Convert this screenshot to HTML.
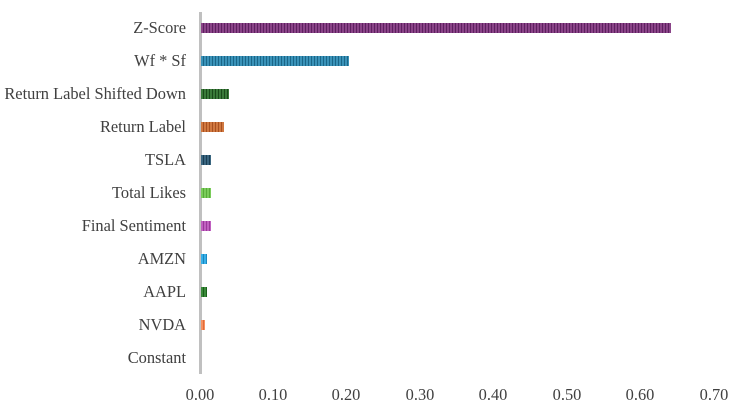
<!DOCTYPE html><html><head><style>
body{margin:0;width:738px;height:408px;background:#fff;position:relative;font-family:"Liberation Serif",serif;color:#404040;overflow:hidden}
.l{position:absolute;right:552px;font-size:16.4px;line-height:18px;white-space:nowrap}
.b{position:absolute;left:201px;height:10px}
.t{position:absolute;top:385px;font-size:16.4px;width:60px;text-align:center;margin-left:-30px}
</style></head><body>
<div style="position:absolute;left:199px;top:12px;width:3px;height:362px;background:#c0c0c0"></div>
<div class="l" style="top:19px">Z-Score</div>
<div class="l" style="top:52px">Wf * Sf</div>
<div class="l" style="top:85px">Return Label Shifted Down</div>
<div class="l" style="top:118px">Return Label</div>
<div class="l" style="top:151px">TSLA</div>
<div class="l" style="top:184px">Total Likes</div>
<div class="l" style="top:217px">Final Sentiment</div>
<div class="l" style="top:250px">AMZN</div>
<div class="l" style="top:283px">AAPL</div>
<div class="l" style="top:316px">NVDA</div>
<div class="l" style="top:349px">Constant</div>
<div class="b" style="top:23px;width:470px;background:repeating-linear-gradient(90deg,#8a4488 0 2px,#5e2060 2px 3px)"></div>
<div class="b" style="top:56px;width:148px;background:repeating-linear-gradient(90deg,#3a92b8 0 2px,#1a6688 2px 3px)"></div>
<div class="b" style="top:89px;width:28px;background:repeating-linear-gradient(90deg,#3a7a3a 0 2px,#1a4a1a 2px 3px)"></div>
<div class="b" style="top:122px;width:23px;background:repeating-linear-gradient(90deg,#d07840 0 2px,#a85020 2px 3px)"></div>
<div class="b" style="top:155px;width:10px;background:repeating-linear-gradient(90deg,#3a6680 0 2px,#1a3e55 2px 3px)"></div>
<div class="b" style="top:188px;width:10px;background:repeating-linear-gradient(90deg,#7acc5a 0 2px,#58aa3a 2px 3px)"></div>
<div class="b" style="top:221px;width:10px;background:repeating-linear-gradient(90deg,#c060c0 0 2px,#9a389a 2px 3px)"></div>
<div class="b" style="top:254px;width:6px;background:repeating-linear-gradient(90deg,#38b0e8 0 2px,#1a88c0 2px 3px)"></div>
<div class="b" style="top:287px;width:6px;background:repeating-linear-gradient(90deg,#3a8a3a 0 2px,#1a601a 2px 3px)"></div>
<div class="b" style="top:320px;width:4px;background:repeating-linear-gradient(90deg,#f59060 0 2px,#e06a38 2px 3px)"></div>
<div class="t" style="left:200px">0.00</div>
<div class="t" style="left:273px">0.10</div>
<div class="t" style="left:346px">0.20</div>
<div class="t" style="left:420px">0.30</div>
<div class="t" style="left:493px">0.40</div>
<div class="t" style="left:567px">0.50</div>
<div class="t" style="left:640px">0.60</div>
<div class="t" style="left:714px">0.70</div>
</body></html>
